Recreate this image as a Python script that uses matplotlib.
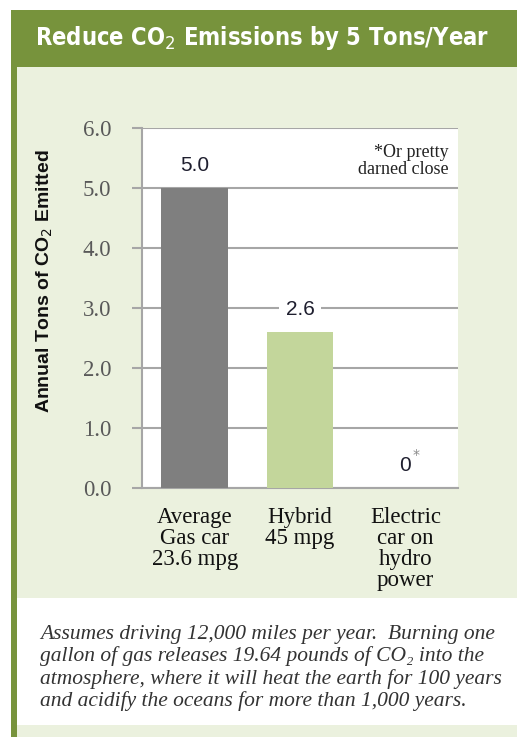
"""Bar chart: annual CO2 emitted by car type, inside a green info box."""
import matplotlib
matplotlib.use("Agg")
import matplotlib.pyplot as plt
from matplotlib.patches import Rectangle
import numpy as np

CATEGORIES = ["Average\nGas car\n23.6 mpg", "Hybrid\n45 mpg", "Electric\ncar on\nhydro\npower"]
VALUES = [5.0, 2.6, 0.0]
VALUE_LABELS = ["5.0", "2.6", "0"]
BAR_COLORS = ["#7f7f7f", "#c3d69b", "#c3d69b"]
Y_TICKS = [0.0, 1.0, 2.0, 3.0, 4.0, 5.0, 6.0]

TITLE = r"Reduce CO$_2$ Emissions by 5 Tons/Year"
YLABEL = r"Annual Tons of CO$_2$ Emitted"
NOTE = "*Or pretty\ndarned close"
FOOTNOTE = ("Assumes driving 12,000 miles per year.  Burning one\n"
            "gallon of gas releases 19.64 pounds of CO₂ into the\n"
            "atmosphere, where it will heat the earth for 100 years\n"
            "and acidify the oceans for more than 1,000 years.")

W, H = 517, 737
GREEN = "#77933c"
PANEL = "#ebf1de"


def fx(px):
    return px / W


def fy(py):
    return 1 - py / H


def box(fig, x0, y0, x1, y1, color):
    fig.patches.append(Rectangle((fx(x0), fy(y1)), fx(x1) - fx(x0), fy(y0) - fy(y1),
                                 transform=fig.transFigure, facecolor=color,
                                 edgecolor="none", zorder=-5))


fig = plt.figure(figsize=(W / 100, H / 100), dpi=100, facecolor="white")

# frame: title band, light panel, white note area, green left rule
box(fig, 11, 10, 517, 67, GREEN)
box(fig, 17, 67, 517, 598, PANEL)
box(fig, 17, 725, 517, 737, PANEL)
box(fig, 11, 10, 17, 737, GREEN)

fig.text(fx(262), fy(38), TITLE, color="white", fontsize=17, fontweight="bold",
         fontstretch="condensed", family="DejaVu Sans", ha="center", va="center")

ax = fig.add_axes([fx(142), fy(488), fx(458) - fx(142), fy(128) - fy(488)])
ax.set_facecolor("white")
x = np.arange(len(CATEGORIES))
ax.bar(x, VALUES, width=0.635, color=BAR_COLORS, zorder=3)

for xi, v, lab in zip(x, VALUES, VALUE_LABELS):
    ax.annotate(lab, (xi, v), xytext=(0, 16), textcoords="offset points",
                ha="center", va="center", fontsize=15, color="#1f1f2f",
                family="Liberation Sans", zorder=4,
                bbox=dict(facecolor="white", edgecolor="none", pad=5))
ax.annotate("*", (x[-1], VALUES[-1]), xytext=(8, 24), textcoords="offset points",
            ha="center", va="center", fontsize=10, color="#8a8a8a", zorder=5)

ax.text(0.97, 0.908, NOTE, transform=ax.transAxes, ha="right", va="center",
        fontsize=13, family="Liberation Serif", color="#222222", linespacing=1.0)

ax.set_xlim(-0.5, 2.5)
ax.set_ylim(0, 6)
ax.set_yticks(Y_TICKS)
ax.set_yticklabels([f"{t:.1f}" for t in Y_TICKS], family="Liberation Serif",
                   fontsize=16.5, color="#595959")
ax.tick_params(axis="y", length=7, width=1.5, color="#a6a6a6", pad=15)
ax.set_xticks(x)
ax.set_xticklabels(CATEGORIES, family="Liberation Serif", fontsize=16.5,
                   color="#111111", linespacing=1.0)
ax.tick_params(axis="x", length=0, pad=14)
ax.grid(True, axis="y", color="#a6a6a6", linewidth=1.5, zorder=1)
ax.set_axisbelow(True)
for s in ["top", "right"]:
    ax.spines[s].set_visible(False)
for s in ["left", "bottom"]:
    ax.spines[s].set_color("#a6a6a6")
    ax.spines[s].set_linewidth(1.5)

fig.text(fx(45), fy(281), YLABEL, rotation=90, ha="center", va="center",
         fontsize=14, fontweight="bold", family="Liberation Sans", color="#111111")

fig.text(fx(40), fy(668), FOOTNOTE, ha="left", va="center", fontsize=15.5,
         family="Liberation Serif", style="italic", color="#333333", linespacing=1.15)

fig.savefig("out.png", dpi=100, facecolor="white")
